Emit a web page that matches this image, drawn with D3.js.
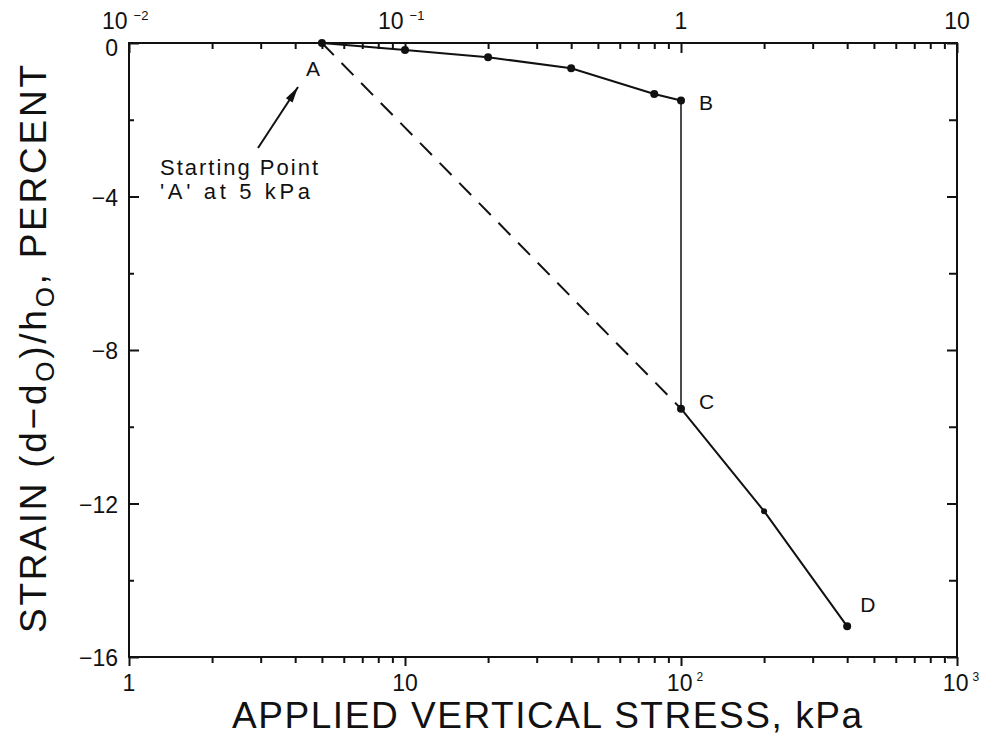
<!DOCTYPE html>
<html lang="en">
<head>
<meta charset="UTF-8">
<title>Strain vs applied vertical stress</title>
<script src="https://d3js.org/d3.v7.min.js"></script>
<style>
  body { margin: 0; background: #fff; }
  svg text { font-family: "Liberation Sans", Arial, sans-serif; fill: #111; }
  .tick-lbl { font-size: 23px; }
  .pt-lbl { font-size: 21px; }
  .note { font-size: 22px; }
</style>
</head>
<body>
<svg width="986" height="736"></svg>
<script>
// loading curve A -> B (dry), then wetting collapse B -> C, then loading C -> D
const loadStress = [5, 10, 20, 40, 80, 100];
const loadStrain = [0, -0.18, -0.37, -0.66, -1.33, -1.5];
const wetStress = [100, 100];
const wetStrain = [-1.5, -9.53];
const afterStress = [100, 200, 400];
const afterStrain = [-9.53, -12.2, -15.2];
const refStress = [5, 100];          // dashed line A -> C
const refStrain = [0, -9.53];

const pointNames = ["A", "B", "C", "D"];
const pointStress = [5, 100, 100, 400];
const pointStrain = [0, -1.5, -9.53, -15.2];

const yTicksMajor = [0, -4, -8, -12, -16];
const yTicksMinor = [-2, -6, -10, -14];
const bottomLabels = [[1, "1", ""], [10, "10", ""], [100, "10", "2"], [1000, "10", "3"]];
const topLabels = [[1, "10", "\u22122"], [10, "10", "\u22121"], [100, "1", ""], [1000, "10", ""]];

const svg = d3.select("svg");
const x = d3.scaleLog().domain([1, 1000]).range([129, 957]);
const y = d3.scaleLinear().domain([0, -16]).range([43, 657]);

const decades = [1, 10, 100];
const minor = [];
decades.forEach(d => { for (let k = 2; k <= 9; k++) minor.push(d * k); });

const blank = () => "";
function styleAxis(g) {
  g.select(".domain").remove();
  g.selectAll("line").attr("stroke", "#111").attr("stroke-width", 2);
}

// bottom axis, ticks outward
svg.append("g").attr("transform", `translate(0,${y(-16)})`)
  .call(d3.axisBottom(x).tickValues([1, 10, 100, 1000]).tickSize(9).tickFormat(blank)).call(styleAxis);
svg.append("g").attr("transform", `translate(0,${y(-16)})`)
  .call(d3.axisBottom(x).tickValues(minor).tickSize(6).tickFormat(blank)).call(styleAxis);
// top axis, ticks inward
svg.append("g").attr("transform", `translate(0,${y(0)})`)
  .call(d3.axisBottom(x).tickValues([1, 10, 100, 1000]).tickSize(10).tickFormat(blank)).call(styleAxis);
svg.append("g").attr("transform", `translate(0,${y(0)})`)
  .call(d3.axisBottom(x).tickValues(minor).tickSize(6).tickFormat(blank)).call(styleAxis);
// left and right axes, ticks inward
svg.append("g").attr("transform", `translate(${x(1)},0)`)
  .call(d3.axisRight(y).tickValues(yTicksMajor).tickSize(10).tickFormat(blank)).call(styleAxis);
svg.append("g").attr("transform", `translate(${x(1)},0)`)
  .call(d3.axisRight(y).tickValues(yTicksMinor).tickSize(5).tickFormat(blank)).call(styleAxis);
svg.append("g").attr("transform", `translate(${x(1000)},0)`)
  .call(d3.axisLeft(y).tickValues(yTicksMajor).tickSize(10).tickFormat(blank)).call(styleAxis);
svg.append("g").attr("transform", `translate(${x(1000)},0)`)
  .call(d3.axisLeft(y).tickValues(yTicksMinor).tickSize(8).tickFormat(blank)).call(styleAxis);

// frame
svg.append("rect")
  .attr("x", x(1)).attr("y", y(0))
  .attr("width", x(1000) - x(1)).attr("height", y(-16) - y(0))
  .attr("fill", "none").attr("stroke", "#111").attr("stroke-width", 2);

// y tick labels
svg.append("g").selectAll("text").data(yTicksMajor).join("text")
  .attr("class", "tick-lbl")
  .attr("x", x(1) - 11).attr("y", d => y(d) + (d === 0 ? 13 : 9))
  .attr("text-anchor", "end")
  .text(d => d === 0 ? "0" : "\u2212" + Math.abs(d));

// bottom labels
bottomLabels.forEach(([v, base, sup]) => {
  const t = svg.append("text").attr("class", "tick-lbl")
    .attr("x", x(v) + (sup ? 4 : 0)).attr("y", y(-16) + 34).attr("text-anchor", "middle");
  t.append("tspan").text(base);
  if (sup) t.append("tspan").attr("dx", 4).attr("dy", -10).attr("font-size", 12).text(sup);
});

// top labels
topLabels.forEach(([v, base, sup]) => {
  const t = svg.append("text").attr("class", "tick-lbl")
    .attr("x", sup ? x(v) - 27 : x(v)).attr("y", y(0) - 14)
    .attr("text-anchor", sup ? "start" : "middle");
  t.append("tspan").text(base);
  if (sup) t.append("tspan").attr("dx", 6).attr("dy", -9).attr("font-size", 13).text(sup);
});

// axis titles
svg.append("text")
  .attr("x", 232).attr("y", 728)
  .attr("font-size", 37)
  .attr("textLength", 630).attr("lengthAdjust", "spacing")
  .text("APPLIED  VERTICAL  STRESS,  kPa");

const yl = svg.append("text")
  .attr("transform", "translate(46,633) rotate(-90)")
  .attr("font-size", 37)
  .attr("textLength", 568).attr("lengthAdjust", "spacing");
yl.append("tspan").text("STRAIN  (d\u2212d");
yl.append("tspan").attr("font-size", 26).attr("dy", 8).text("O");
yl.append("tspan").attr("dy", -8).text(")/h");
yl.append("tspan").attr("font-size", 26).attr("dy", 8).text("O");
yl.append("tspan").attr("dy", -8).text(",  PERCENT");

// lines
const line = d3.line().x(d => x(d[0])).y(d => y(d[1]));
const zip = (a, b) => a.map((v, i) => [v, b[i]]);

svg.append("path").datum(zip(refStress, refStrain))
  .attr("d", line).attr("fill", "none").attr("stroke", "#111")
  .attr("stroke-width", 2).attr("stroke-dasharray", "17,11");
svg.append("path").datum(zip(loadStress, loadStrain))
  .attr("d", line).attr("fill", "none").attr("stroke", "#111").attr("stroke-width", 2);
svg.append("path").datum(zip(wetStress, wetStrain))
  .attr("d", line).attr("fill", "none").attr("stroke", "#111").attr("stroke-width", 1.5);
svg.append("path").datum(zip(afterStress, afterStrain))
  .attr("d", line).attr("fill", "none").attr("stroke", "#111").attr("stroke-width", 2);

// markers
const pts = zip(loadStress, loadStrain).concat(zip(afterStress, afterStrain));
svg.append("g").selectAll("circle").data(pts).join("circle")
  .attr("cx", d => x(d[0])).attr("cy", d => y(d[1]))
  .attr("r", d => d[0] === 200 ? 3 : 4).attr("fill", "#111");

// point letters
const lblOff = { A: [-16, 33], B: [18, 9], C: [18, 0], D: [13, -14] };
svg.append("g").selectAll("text").data(pointNames).join("text")
  .attr("class", "pt-lbl")
  .attr("x", (d, i) => x(pointStress[i]) + lblOff[d][0])
  .attr("y", (d, i) => y(pointStrain[i]) + lblOff[d][1])
  .text(d => d);

// note with arrow
svg.append("text").attr("class", "note").attr("x", 160).attr("y", 175)
  .attr("textLength", 158).attr("lengthAdjust", "spacing").text("Starting Point");
svg.append("text").attr("class", "note").attr("x", 160).attr("y", 199)
  .attr("textLength", 150).attr("lengthAdjust", "spacing").text("'A'  at  5  kPa");
const ax0 = [258, 148], ax1 = [298, 87];
svg.append("line").attr("x1", ax0[0]).attr("y1", ax0[1]).attr("x2", ax1[0]).attr("y2", ax1[1])
  .attr("stroke", "#111").attr("stroke-width", 2);
const ang = Math.atan2(ax1[1] - ax0[1], ax1[0] - ax0[0]);
const hl = 16, hw = 4;
const bx = ax1[0] - hl * Math.cos(ang), by = ax1[1] - hl * Math.sin(ang);
svg.append("path")
  .attr("d", `M${ax1[0]},${ax1[1]}L${bx - hw * Math.sin(ang)},${by + hw * Math.cos(ang)}L${bx + hw * Math.sin(ang)},${by - hw * Math.cos(ang)}Z`)
  .attr("fill", "#111");
</script>
</body>
</html>
